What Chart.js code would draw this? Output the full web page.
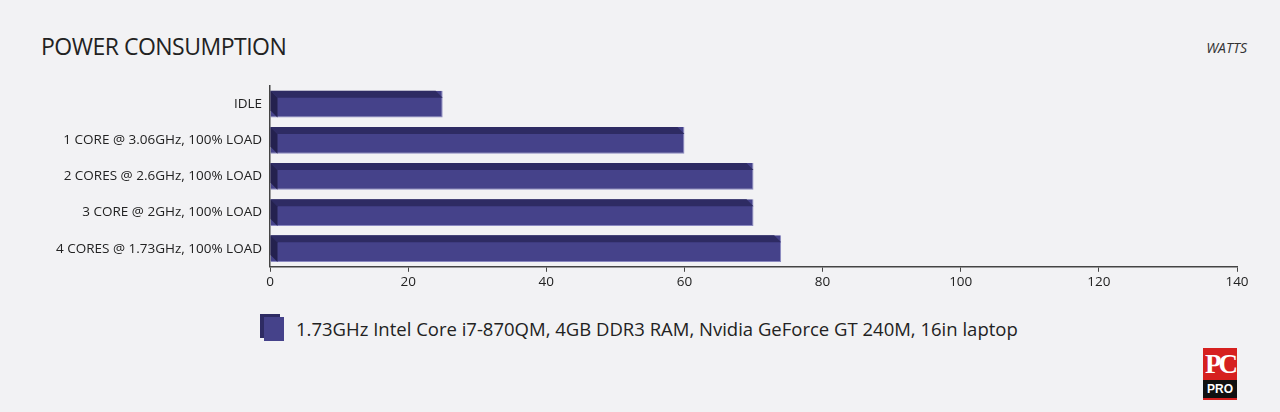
<!DOCTYPE html>
<html><head><meta charset="utf-8">
<script src="https://cdn.jsdelivr.net/npm/chart.js@4"></script>
<style>
body{margin:0;background:#f2f2f4;font-family:"Open Sans",sans-serif;width:1280px;height:412px;position:relative;overflow:hidden}
#title{position:absolute;left:41px;top:30px;font-size:23px;color:#222;letter-spacing:-0.5px}
#unit{position:absolute;right:33px;top:38px;font-size:14px;font-style:italic;color:#333}
#wrap{position:absolute;left:0;top:70px;width:1280px;height:222px}
#legend{position:absolute;left:264px;top:316px;font-size:18.5px;color:#222;display:flex;align-items:center}
#legend i{display:inline-block;width:20px;height:24px;background:#45428a;margin-right:12px;box-shadow:-4px -3px 0 #2e2b63}
#logo{position:absolute;left:1203px;top:348px;width:34px;height:52px;background:#d6201f;color:#fff;font-family:"Liberation Serif",serif;font-weight:bold;font-size:27px;line-height:32px;text-align:center;letter-spacing:-3px}
#logo span{display:block;background:#111;font-family:"Liberation Sans",sans-serif;font-size:12px;line-height:18px;letter-spacing:0}
</style></head><body>
<div id="title">POWER CONSUMPTION</div>
<div id="unit">WATTS</div>
<div id="wrap"><canvas id="c"></canvas></div>
<div id="legend"><i></i>1.73GHz Intel Core i7-870QM, 4GB DDR3 RAM, Nvidia GeForce GT 240M, 16in laptop</div>
<div id="logo">PC<span>PRO</span></div>
<script>
const categories = ['IDLE','1 CORE @ 3.06GHz, 100% LOAD','2 CORES @ 2.6GHz, 100% LOAD','3 CORE @ 2GHz, 100% LOAD','4 CORES @ 1.73GHz, 100% LOAD'];
const watts = [25, 60, 70, 70, 74];
const seriesLabel = '1.73GHz Intel Core i7-870QM, 4GB DDR3 RAM, Nvidia GeForce GT 240M, 16in laptop';

// top face + left end for the fake 3D look
const bevel = {
  id:'bevel',
  afterDatasetsDraw(chart){
    const ctx = chart.ctx;
    chart.getDatasetMeta(0).data.forEach(b => {
      const top = b.y - b.height/2, bot = b.y + b.height/2, d = 7;
      ctx.save();
      ctx.fillStyle = '#2e2b63';
      ctx.beginPath();
      ctx.moveTo(b.base, top); ctx.lineTo(b.x - d, top); ctx.lineTo(b.x, top + d); ctx.lineTo(b.base + d, top + d); ctx.closePath(); ctx.fill();
      ctx.fillStyle = '#24214f';
      ctx.beginPath();
      ctx.moveTo(b.base, top); ctx.lineTo(b.base + d, top + d); ctx.lineTo(b.base + d, bot); ctx.lineTo(b.base, bot - d); ctx.closePath(); ctx.fill();
      ctx.restore();
    });
  }
};

new Chart(document.getElementById('c'), {
  type:'bar',
  data:{ labels:categories, datasets:[{ label:seriesLabel, data:watts, backgroundColor:'#45428a', borderColor:'#8a88c0', borderWidth:{top:0,right:1,bottom:1,left:0}, categoryPercentage:1, barPercentage:0.74 }] },
  options:{
    indexAxis:'y', responsive:true, maintainAspectRatio:false, animation:false,
    layout:{ padding:{ right:43, top:0 } },
    plugins:{ legend:{display:false}, tooltip:{enabled:false} },
    scales:{
      x:{ min:0, max:140, ticks:{ stepSize:20, color:'#222', font:{family:'Open Sans', size:13.5}, padding:2 },
          grid:{ drawOnChartArea:false, tickLength:5, color:'#444' }, border:{ color:'#444', width:1.5 } },
      y:{ afterFit(s){ s.width = 270; }, ticks:{ color:'#222', font:{family:'Open Sans', size:13.5}, padding:8 },
          grid:{ drawOnChartArea:false, drawTicks:false }, border:{ color:'#444', width:1.5 } }
    }
  },
  plugins:[bevel]
});
</script>
</body></html>
